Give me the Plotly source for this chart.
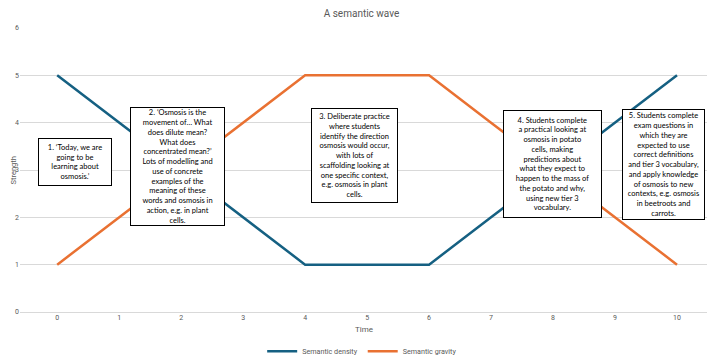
import plotly.graph_objects as go

time = list(range(11))
semantic_density = [5, 4, 3, 2, 1, 1, 1, 2, 3, 4, 5]
semantic_gravity = [1, 2, 3, 4, 5, 5, 5, 4, 3, 2, 1]

box_texts = [
    "1. ‘Today, we are<br>going to be<br>learning about<br>osmosis.’",
    "2. ‘Osmosis is the<br>movement of… What<br>does dilute mean?<br>What does<br>concentrated mean?’<br>Lots of modelling and<br>use of concrete<br>examples of the<br>meaning of these<br>words and osmosis in<br>action, e.g. in plant<br>cells.",
    "3. Deliberate practice<br>where students<br>identify the direction<br>osmosis would occur,<br>with lots of<br>scaffolding looking at<br>one specific context,<br>e.g. osmosis in plant<br>cells.",
    "4. Students complete<br>a practical looking at<br>osmosis in potato<br>cells, making<br>predictions about<br>what they expect to<br>happen to the mass of<br>the potato and why,<br>using new tier 3<br>vocabulary.",
    "5. Students complete<br>exam questions in<br>which they are<br>expected to use<br>correct definitions<br>and tier 3 vocabulary,<br>and apply knowledge<br>of osmosis to new<br>contexts, e.g. osmosis<br>in beetroots and<br>carrots.",
]
# box centers (data coords) and sizes (px)
box_x = [0.29, 1.94, 4.80, 7.99, 9.78]
box_y = [3.17, 3.07, 3.31, 3.13, 3.12]
box_w = [72, 93, 85, 97, 81]
box_h = [46, 117, 93, 106, 109]

FONT = "Roboto, sans-serif"

fig = go.Figure()
fig.add_trace(go.Scatter(x=time, y=semantic_density, mode="lines", name="Semantic density",
                         line=dict(color="#156082", width=2.5)))
fig.add_trace(go.Scatter(x=time, y=semantic_gravity, mode="lines", name="Semantic gravity",
                         line=dict(color="#E97132", width=2.5)))

for t, x, y, w, h in zip(box_texts, box_x, box_y, box_w, box_h):
    fig.add_annotation(x=x, y=y, xref="x", yref="y", text=t, showarrow=False,
                       width=w, height=h, align="center", valign="middle",
                       bgcolor="white", bordercolor="black", borderwidth=1, borderpad=0,
                       font=dict(family="Lato", size=7.5, color="black"))

fig.add_annotation(x=-0.0095, y=0.5, xref="paper", yref="paper", text="Strength", showarrow=False,
                   textangle=-90, xanchor="center", yanchor="middle",
                   font=dict(family=FONT, size=7.5, color="#595959"))

fig.update_layout(
    width=707, height=356,
    margin=dict(l=12, r=7, t=20, b=52, autoexpand=False),
    paper_bgcolor="white", plot_bgcolor="white",
    title=dict(text="A semantic wave", x=0.5, xanchor="center", y=0.984, yanchor="middle",
               font=dict(family=FONT, size=10, color="#595959")),
    font=dict(family=FONT, color="#595959"),
    showlegend=True,
    legend=dict(orientation="h", x=0.352, xanchor="left", y=-0.138, yanchor="middle",
                font=dict(family=FONT, size=7.2, color="#595959"), itemwidth=30,
                tracegroupgap=0),
)

fig.update_xaxes(range=[-0.6, 10.5], tickmode="array", tickvals=time, ticktext=[str(t) for t in time],
                 showgrid=False, zeroline=False, showline=False, ticks="", automargin=False,
                 tickfont=dict(family=FONT, size=7, color="#595959"),
                 title=dict(text="Time", font=dict(family=FONT, size=8, color="#595959"), standoff=5))
fig.update_yaxes(range=[0, 6], dtick=1, showgrid=True, gridcolor="#d9d9d9", gridwidth=1,
                 zeroline=True, zerolinecolor="#d9d9d9", zerolinewidth=1, showline=False, ticks="",
                 tickfont=dict(family=FONT, size=7, color="#595959"), automargin=False)

fig.write_html("out.html")
